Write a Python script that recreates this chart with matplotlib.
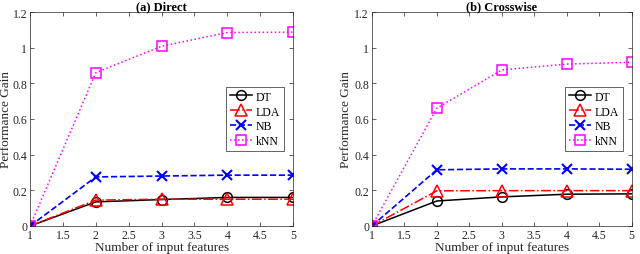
import matplotlib
matplotlib.use("Agg")
import matplotlib.pyplot as plt

x = [1, 2, 3, 4, 5]
direct_dt = [0, 0.135, 0.148, 0.16, 0.16]
direct_lda = [0, 0.145, 0.15, 0.15, 0.15]
direct_nb = [0, 0.275, 0.28, 0.285, 0.285]
direct_knn = [0, 0.86, 1.008, 1.085, 1.087]

cross_dt = [0, 0.14, 0.163, 0.178, 0.18]
cross_lda = [0, 0.197, 0.198, 0.198, 0.198]
cross_nb = [0, 0.315, 0.32, 0.32, 0.318]
cross_knn = [0, 0.66, 0.875, 0.908, 0.918]

titles = ["(a) Direct", "(b) Crosswise"]
labels = ["DT", "LDA", "NB", "kNN"]
xticks = [1, 1.5, 2, 2.5, 3, 3.5, 4, 4.5, 5]
xticklabels = ["1", "1.5", "2", "2.5", "3", "3.5", "4", "4.5", "5"]
yticks = [0, 0.2, 0.4, 0.6, 0.8, 1.0, 1.2]
yticklabels = ["0", "0.2", "0.4", "0.6", "0.8", "1", "1.2"]

plt.rcParams['font.family'] = ['Liberation Serif', 'DejaVu Serif']
plt.rcParams['font.size'] = 8.5
ac = '#262626'

fig = plt.figure(figsize=(6.4, 2.55), dpi=100)
positions = [[0.047, 0.11, 0.411, 0.839], [0.581, 0.11, 0.406, 0.839]]
ylab_x = [-0.07, -0.075]
data = [(direct_dt, direct_lda, direct_nb, direct_knn),
        (cross_dt, cross_lda, cross_nb, cross_knn)]

for pos, title, lx, (dt, lda, nb, knn) in zip(positions, titles, ylab_x, data):
    ax = fig.add_axes(pos)
    ax.plot(x, dt, color='black', linestyle='-', marker='o', markersize=7,
            markerfacecolor='none', markeredgewidth=1.1, linewidth=1.1, label=labels[0])
    ax.plot(x, lda, color='red', linestyle='-.', marker='^', markersize=8,
            markerfacecolor='none', markeredgewidth=1.1, linewidth=1.1, label=labels[1])
    ax.plot(x, nb, color='blue', linestyle='--', marker='x', markersize=7,
            markeredgewidth=1.5, linewidth=1.2, label=labels[2])
    ax.plot(x, knn, color='magenta', linestyle=':', marker='s', markersize=7,
            markerfacecolor='none', markeredgewidth=1.1, linewidth=1.1, label=labels[3])
    ax.set_xlim(1, 5)
    ax.set_ylim(0, 1.2)
    ax.set_xticks(xticks)
    ax.set_xticklabels(xticklabels)
    ax.set_yticks(yticks)
    ax.set_yticklabels(yticklabels)
    ax.tick_params(direction='in', length=3, width=0.5, colors=ac, labelcolor=ac,
                   top=True, right=True, pad=2, labelsize=8.5)
    for s in ax.spines.values():
        s.set_color(ac)
        s.set_linewidth(0.5)
    ax.set_xlabel("Number of input features", fontsize=9.5, color=ac, labelpad=0)
    ax.set_ylabel("Performance Gain", fontsize=9.5, color=ac)
    ax.yaxis.set_label_coords(lx, 0.5)
    ax.set_title(title, fontsize=9, fontweight='bold', pad=2)
    leg = ax.legend(loc='center right', bbox_to_anchor=(0.965, 0.5), fontsize=8.5,
                    frameon=True, fancybox=False, edgecolor=ac, framealpha=1,
                    handlelength=1.9, handletextpad=0.3, borderpad=0.3,
                    labelspacing=0.25, borderaxespad=0)
    leg.get_frame().set_linewidth(0.5)

fig.savefig("out.png", dpi=100)
